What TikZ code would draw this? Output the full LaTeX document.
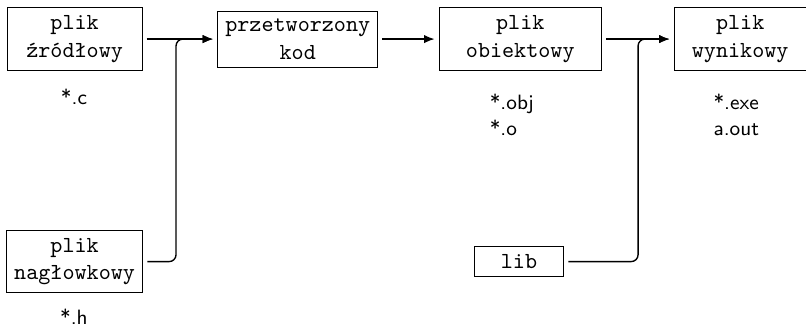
\documentclass[tikz,border=0pt]{standalone}
\usetikzlibrary{arrows.meta}

\tikzset{
    filebox/.style={draw, align=center, font=\ttfamily, outer sep=2pt},
    ext/.style={align=left, font=\sffamily\small},
    conn/.style={semithick, rounded corners=3pt},
}

\begin{document}
\begin{tikzpicture}[>={Latex[length=4.5pt,width=3.6pt]}]

    % fixed picture size
    \useasboundingbox (0,0) rectangle (12.316,4.997);

    % top row: from source to executable
    \node[filebox, minimum width=2.06cm] (src) at (1.14,4.40) {plik\\źródłowy};
    \node[filebox, minimum width=2.43cm] (pre) at (4.55,4.40) {przetworzony\\kod};
    \node[filebox, minimum width=2.48cm] (obj) at (7.95,4.40) {plik\\obiektowy};
    \node[filebox, minimum width=2.02cm] (exe) at (11.31,4.40) {plik\\wynikowy};

    % bottom row: extra inputs
    \node[filebox, minimum width=2.06cm] (hdr) at (1.14,1.00) {plik\\nagłowkowy};
    \node[filebox, minimum width=1.37cm] (lib) at (7.93,1.00) {lib};

    % file extensions
    \node[ext] (srcext) at (1.13,3.51) {*.c};
    \node[ext] (objext) at (7.82,3.24) {*.obj\\*.o};
    \node[ext, align=center] (exeext) at (11.25,3.24) {*.exe\\a.out};
    \node[ext] (hdrext) at (1.13,0.15) {*.h};

    % junction points
    \coordinate (j1) at (2.69,4.40);
    \coordinate (j2) at (9.75,4.40);

    % arrows along the top row
    \draw[conn, ->] (src.east) -- (pre.west);
    \draw[conn, ->] (pre.east) -- (obj.west);
    \draw[conn, ->] (obj.east) -- (exe.west);

    % lines joining from below
    \draw[conn, ->] (hdr.east) -| (j1) -- (pre.west);
    \draw[conn, ->] (lib.east) -| (j2) -- (exe.west);

\end{tikzpicture}
\end{document}
